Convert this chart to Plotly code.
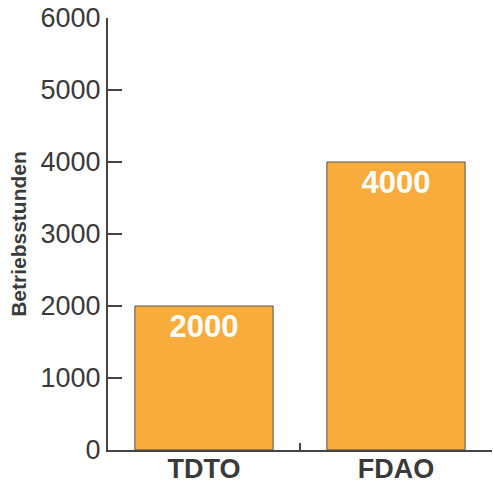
import plotly.graph_objects as go

categories = ["TDTO", "FDAO"]
values = [2000, 4000]
value_labels = ["2000", "4000"]
y_ticks = [0, 1000, 2000, 3000, 4000, 5000, 6000]
y_title = "Betriebsstunden"

axis_color = "#444444"
text_color = "#3a3a3a"

fig = go.Figure(
    go.Bar(
        x=categories,
        y=values,
        text=value_labels,
        textposition="inside",
        insidetextanchor="end",
        textangle=0,
        textfont=dict(family="Liberation Sans, Arial, sans-serif", size=31, color="white", weight="bold"),
        marker=dict(color="#F7AC3B", line=dict(color="#555555", width=1)),
        width=0.72,
        hoverinfo="skip",
    )
)

fig.update_layout(
    width=493,
    height=483,
    margin=dict(l=108, r=1, t=18, b=33, autoexpand=False),
    paper_bgcolor="white",
    plot_bgcolor="white",
    showlegend=False,
)

fig.update_xaxes(
    showline=True,
    linecolor=axis_color,
    linewidth=2,
    ticks="inside",
    tickson="boundaries",
    ticklen=7,
    tickwidth=1.5,
    tickcolor=axis_color,
    showgrid=False,
    zeroline=False,
    ticklabelstandoff=-6,
    tickfont=dict(family="Liberation Sans, Arial, sans-serif", size=27, color=text_color, weight="bold"),
    automargin=False,
)

fig.update_yaxes(
    range=[0, 6000],
    tickvals=y_ticks,
    ticktext=[str(v) for v in y_ticks],
    showline=True,
    linecolor=axis_color,
    linewidth=2,
    ticks="inside",
    ticklen=14,
    tickwidth=2,
    tickcolor=axis_color,
    showgrid=False,
    zeroline=False,
    ticklabelstandoff=0,
    ticklabeloverflow="allow",
    tickfont=dict(family="Liberation Sans, Arial, sans-serif", size=27, color=text_color),
    title=dict(
        text=y_title,
        font=dict(family="Liberation Sans, Arial, sans-serif", size=21, color=text_color, weight="bold"),
        standoff=8,
    ),
    automargin=False,
)

fig.write_html(
    "out.html",
    config={"displayModeBar": False},
    post_script="document.body.style.margin='0';",
)
